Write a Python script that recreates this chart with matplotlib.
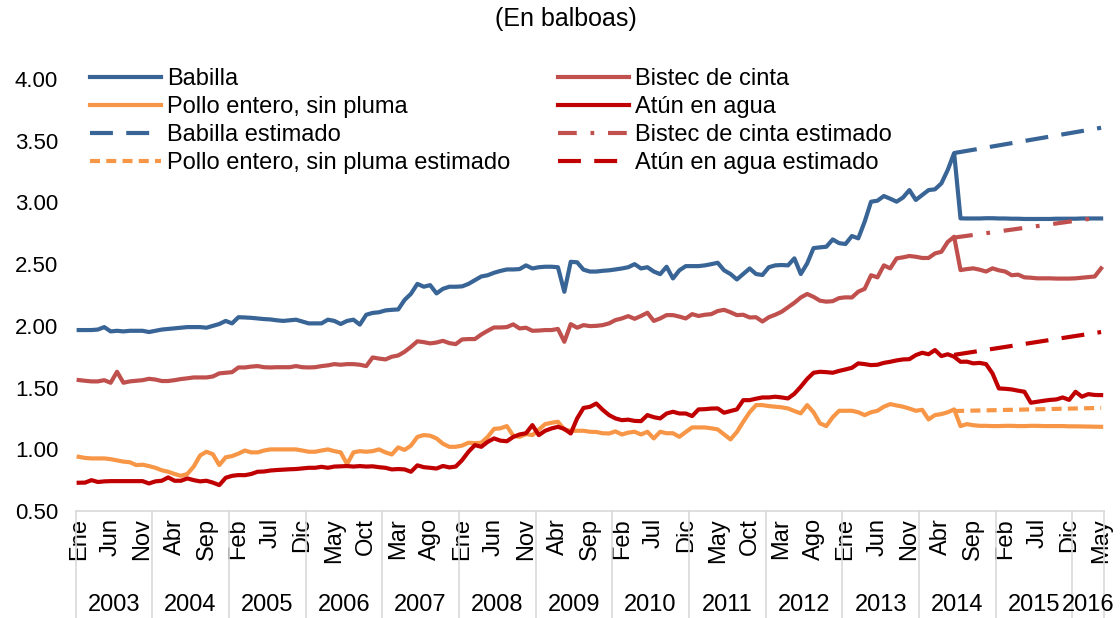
import matplotlib
matplotlib.use('Agg')
import matplotlib.pyplot as plt
import numpy as np

plt.rcParams['font.family'] = ['Liberation Sans', 'DejaVu Sans']

# ---------------- data ----------------
month_names = ['Ene', 'Feb', 'Mar', 'Abr', 'May', 'Jun', 'Jul', 'Ago', 'Sep', 'Oct', 'Nov', 'Dic']
years = [2003, 2004, 2005, 2006, 2007, 2008, 2009, 2010, 2011, 2012, 2013, 2014, 2015, 2016]
last_month_2016 = 5  # data ends in May 2016

babilla = [
    1.966, 1.966, 1.966, 1.97, 1.99, 1.955, 1.96, 1.955, 1.96, 1.96,
    1.96, 1.95, 1.96, 1.97, 1.975, 1.98, 1.985, 1.99, 1.99, 1.99,
    1.985, 2.00, 2.015, 2.04, 2.02, 2.07, 2.068, 2.065, 2.06, 2.055,
    2.052, 2.045, 2.04, 2.045, 2.05, 2.035, 2.02, 2.02, 2.02, 2.05,
    2.04, 2.015, 2.04, 2.05, 2.01, 2.09, 2.105, 2.11, 2.125, 2.13,
    2.133, 2.21, 2.26, 2.34, 2.317, 2.33, 2.263, 2.30, 2.317, 2.317,
    2.32, 2.34, 2.37, 2.40, 2.41, 2.43, 2.445, 2.457, 2.457, 2.46,
    2.49, 2.465, 2.475, 2.479, 2.479, 2.475, 2.276, 2.519, 2.515, 2.455,
    2.44, 2.44, 2.446, 2.45, 2.457, 2.465, 2.475, 2.50, 2.465, 2.475,
    2.44, 2.419, 2.479, 2.384, 2.45, 2.484, 2.484, 2.484, 2.49, 2.50,
    2.511, 2.45, 2.42, 2.376, 2.42, 2.465, 2.42, 2.412, 2.475, 2.49,
    2.493, 2.49, 2.547, 2.42, 2.506, 2.63, 2.636, 2.641, 2.70, 2.67,
    2.663, 2.728, 2.709, 2.844, 3.006, 3.014, 3.052, 3.03, 3.006, 3.04,
    3.10, 3.02, 3.06, 3.10, 3.106, 3.154, 3.263, 3.40, 2.871, 2.87,
    2.87, 2.87, 2.872, 2.872, 2.87, 2.87, 2.868, 2.868, 2.866, 2.866,
    2.866, 2.866, 2.866, 2.868, 2.868, 2.868, 2.868, 2.87, 2.87, 2.87, 2.87,
]

bistec = [
    1.561, 1.555, 1.55, 1.55, 1.56, 1.539, 1.628, 1.539, 1.55, 1.555,
    1.56, 1.571, 1.565, 1.553, 1.553, 1.56, 1.569, 1.575, 1.582, 1.582,
    1.582, 1.59, 1.615, 1.62, 1.625, 1.663, 1.663, 1.67, 1.674, 1.665,
    1.663, 1.665, 1.665, 1.665, 1.674, 1.665, 1.663, 1.665, 1.674, 1.68,
    1.69, 1.685, 1.69, 1.69, 1.685, 1.674, 1.744, 1.735, 1.728, 1.75,
    1.76, 1.79, 1.83, 1.875, 1.868, 1.858, 1.865, 1.879, 1.86, 1.852,
    1.89, 1.893, 1.893, 1.93, 1.96, 1.987, 1.987, 1.99, 2.012, 1.979,
    1.985, 1.96, 1.962, 1.966, 1.966, 1.975, 1.871, 2.014, 1.985, 2.006,
    1.998, 2.0, 2.006, 2.02, 2.047, 2.06, 2.079, 2.057, 2.08, 2.106,
    2.04, 2.06, 2.087, 2.087, 2.075, 2.06, 2.095, 2.08, 2.09, 2.095,
    2.12, 2.13, 2.11, 2.087, 2.09, 2.068, 2.07, 2.035, 2.07, 2.09,
    2.114, 2.15, 2.187, 2.23, 2.258, 2.235, 2.204, 2.196, 2.20, 2.225,
    2.231, 2.23, 2.277, 2.30, 2.41, 2.393, 2.49, 2.466, 2.547, 2.555,
    2.566, 2.56, 2.55, 2.55, 2.587, 2.60, 2.68, 2.722, 2.452, 2.46,
    2.466, 2.455, 2.44, 2.466, 2.45, 2.44, 2.41, 2.415, 2.393, 2.39,
    2.385, 2.385, 2.385, 2.383, 2.383, 2.383, 2.385, 2.39, 2.395, 2.40, 2.466,
]

pollo = [
    0.939, 0.93, 0.926, 0.926, 0.926, 0.92, 0.91, 0.90, 0.895, 0.872,
    0.875, 0.864, 0.85, 0.83, 0.818, 0.80, 0.785, 0.80, 0.86, 0.95,
    0.98, 0.96, 0.872, 0.935, 0.945, 0.965, 0.99, 0.975, 0.975, 0.99,
    0.999, 0.999, 0.999, 0.999, 0.999, 0.99, 0.98, 0.98, 0.99, 0.999,
    0.985, 0.975, 0.88, 0.975, 0.985, 0.98, 0.985, 0.999, 0.975, 0.958,
    1.015, 0.995, 1.03, 1.10, 1.115, 1.11, 1.088, 1.045, 1.02, 1.02,
    1.03, 1.053, 1.05, 1.053, 1.10, 1.165, 1.17, 1.188, 1.11, 1.101,
    1.123, 1.115, 1.16, 1.204, 1.215, 1.223, 1.16, 1.15, 1.15, 1.15,
    1.142, 1.14, 1.13, 1.128, 1.145, 1.12, 1.135, 1.142, 1.12, 1.142,
    1.088, 1.142, 1.13, 1.13, 1.101, 1.14, 1.177, 1.177, 1.177, 1.17,
    1.161, 1.12, 1.08, 1.14, 1.223, 1.30, 1.358, 1.358, 1.35, 1.345,
    1.34, 1.331, 1.31, 1.291, 1.358, 1.30, 1.21, 1.188, 1.26, 1.312,
    1.312, 1.312, 1.30, 1.277, 1.30, 1.312, 1.345, 1.366, 1.355, 1.345,
    1.33, 1.312, 1.32, 1.242, 1.277, 1.285, 1.30, 1.323, 1.188, 1.204,
    1.195, 1.19, 1.19, 1.188, 1.188, 1.19, 1.19, 1.188, 1.188, 1.19,
    1.19, 1.188, 1.188, 1.188, 1.188, 1.186, 1.186, 1.185, 1.184, 1.183, 1.182,
]

atun = [
    0.729, 0.73, 0.75, 0.735, 0.74, 0.742, 0.742, 0.742, 0.742, 0.742,
    0.742, 0.723, 0.74, 0.745, 0.772, 0.745, 0.745, 0.764, 0.75, 0.74,
    0.745, 0.73, 0.71, 0.769, 0.785, 0.791, 0.79, 0.80, 0.818, 0.82,
    0.828, 0.832, 0.835, 0.838, 0.84, 0.845, 0.85, 0.85, 0.858, 0.85,
    0.86, 0.862, 0.864, 0.86, 0.864, 0.86, 0.862, 0.855, 0.85, 0.837,
    0.84, 0.837, 0.818, 0.87, 0.855, 0.85, 0.844, 0.865, 0.853, 0.86,
    0.912, 0.98, 1.034, 1.02, 1.06, 1.088, 1.07, 1.065, 1.10, 1.12,
    1.13, 1.196, 1.115, 1.15, 1.169, 1.182, 1.165, 1.128, 1.25, 1.335,
    1.344, 1.371, 1.32, 1.277, 1.25, 1.236, 1.24, 1.23, 1.228, 1.277,
    1.26, 1.25, 1.29, 1.304, 1.29, 1.29, 1.269, 1.323, 1.325, 1.33,
    1.331, 1.296, 1.31, 1.323, 1.398, 1.398, 1.41, 1.42, 1.42, 1.426,
    1.42, 1.412, 1.45, 1.507, 1.57, 1.62, 1.628, 1.625, 1.62, 1.635,
    1.647, 1.66, 1.696, 1.69, 1.682, 1.685, 1.70, 1.709, 1.72, 1.728,
    1.73, 1.763, 1.782, 1.77, 1.804, 1.755, 1.77, 1.75, 1.709, 1.71,
    1.696, 1.70, 1.69, 1.615, 1.493, 1.49, 1.485, 1.475, 1.466, 1.377,
    1.385, 1.393, 1.40, 1.404, 1.42, 1.40, 1.466, 1.426, 1.447, 1.44, 1.439,
]

# estimated (trend) series: start and end periods with values
est_periods = ['Jun 2014', 'May 2016']
babilla_est = [3.40, 3.605]
bistec_est = [2.715, 2.88]
pollo_est = [1.31, 1.335]
atun_est = [1.765, 1.95]

# ---------------- categories ----------------
periods = []
for y in years:
    n = 12 if y != years[-1] else last_month_2016
    for m in range(n):
        periods.append(f"{month_names[m]} {y}")
x = np.arange(len(periods))
est_x = [periods.index(p) for p in est_periods]

c_babilla = '#386496'
c_bistec = '#C0504D'
c_pollo = '#F79646'
c_atun = '#C00000'
grid_c = '#D9D9D9'
FS = 17

fig = plt.figure(figsize=(11.2, 6.18), dpi=100)
ax = fig.add_axes([75.5 / 1120, 107 / 618, 1028.8 / 1120, 432 / 618])

lw = 3
h1, = ax.plot(x, babilla, color=c_babilla, lw=lw, label='Babilla')
h2, = ax.plot(x, bistec, color=c_bistec, lw=lw, label='Bistec de cinta')
h3, = ax.plot(x, pollo, color=c_pollo, lw=lw, label='Pollo entero, sin pluma')
h4, = ax.plot(x, atun, color=c_atun, lw=lw, label='Atún en agua')
h5, = ax.plot(est_x, babilla_est, color=c_babilla, lw=lw, linestyle=(0, (5.5, 3.2)),
              label='Babilla estimado')
h6, = ax.plot(est_x, bistec_est, color=c_bistec, lw=lw, linestyle=(0, (4.5, 3.3, 0.9, 3.3)),
              label='Bistec de cinta estimado')
h7, = ax.plot(est_x, pollo_est, color=c_pollo, lw=lw, linestyle=(0, (2.4, 1.5)),
              label='Pollo entero, sin pluma estimado')
h8, = ax.plot(est_x, atun_est, color=c_atun, lw=lw, linestyle=(0, (5.5, 3.2)),
              label='Atún en agua estimado')

ax.set_xlim(-0.5, len(periods) - 0.5)
ax.set_ylim(0.5, 4.0)
yt = np.arange(0.5, 4.01, 0.5)
ax.set_yticks(yt)
ax.set_yticklabels([f"{v:.2f}" for v in yt], fontsize=16)
ax.tick_params(axis='y', length=0, pad=12.5)

ticks = list(range(0, len(periods), 5))
ax.set_xticks(ticks)
ax.set_xticklabels([periods[t].split()[0] for t in ticks], rotation=90, fontsize=FS)
ax.tick_params(axis='x', length=0, pad=5)

for s in ['top', 'right', 'left']:
    ax.spines[s].set_visible(False)
ax.spines['bottom'].set_color(grid_c)
ax.spines['bottom'].set_linewidth(1.2)

trans = ax.get_xaxis_transform()
ybot = -107 / 432
bounds = [-0.5]
for y in years:
    idx = [i for i, p in enumerate(periods) if p.endswith(str(y))]
    bounds.append(idx[-1] + 0.5)
    ax.text((idx[0] + idx[-1]) / 2, (511 - 605) / 432, str(y), transform=trans,
            ha='center', va='center', fontsize=FS)
for b in bounds:
    ax.plot([b, b], [0, ybot], transform=trans, color=grid_c, lw=1.2, clip_on=False)

handles = [h1, h3, h5, h7, h2, h4, h6, h8]
leg = ax.legend(handles=handles, loc='upper left', ncol=2, frameon=False,
                bbox_to_anchor=(90 / 1120, 1 - 68 / 618), bbox_transform=fig.transFigure,
                fontsize=FS, handlelength=3.0, handletextpad=0.25, labelspacing=0.26,
                columnspacing=2.03, borderpad=0, borderaxespad=0)

fig.text(0.505, 1 - 19 / 618, '(En balboas)', ha='center', va='center', fontsize=18)

fig.savefig('out.png', dpi=100)
